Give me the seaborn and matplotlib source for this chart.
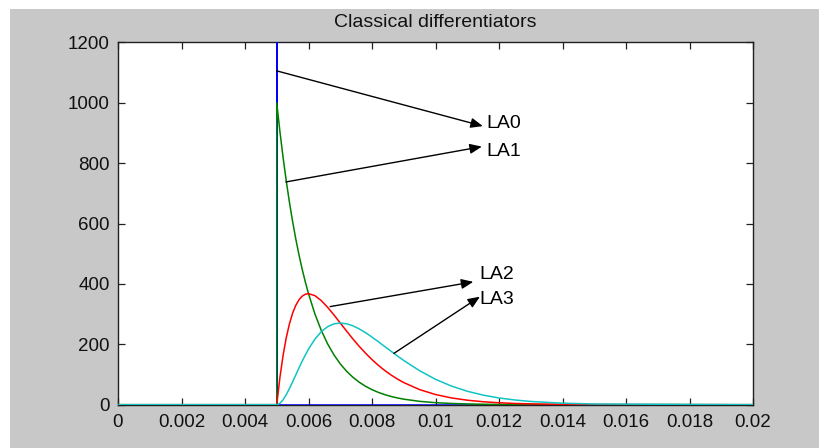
import matplotlib
matplotlib.use("Agg")
import matplotlib.pyplot as plt
import seaborn as sns
from matplotlib.patches import Rectangle

# Impulse response of the zero-order differentiator (off-scale spike at t = 5 ms)
t_la0 = [0.0, 0.005, 0.005, 0.005, 0.02]
la0 = [0.0, 0.0, 5000.0, 0.0, 0.0]

# Common time base for the higher-order responses (seconds)
t = [0.0, 0.005, 0.005, 0.0051, 0.0052, 0.0053, 0.0054, 0.0055, 0.0056, 0.0057,
     0.0058, 0.0059, 0.006, 0.0062, 0.0064, 0.0066, 0.0068, 0.007, 0.0072, 0.0074,
     0.0076, 0.0078, 0.008, 0.0082, 0.0084, 0.0086, 0.0088, 0.009, 0.0095, 0.01,
     0.0105, 0.011, 0.0115, 0.012, 0.0125, 0.013, 0.014, 0.015, 0.02]

la1 = [0.0, 0.0, 1000.0, 904.8, 818.7, 740.8, 670.3, 606.5, 548.8, 496.6,
       449.3, 406.6, 367.9, 301.2, 246.6, 201.9, 165.3, 135.3, 110.8, 90.7,
       74.3, 60.8, 49.8, 40.8, 33.4, 27.3, 22.4, 18.3, 11.1, 6.7,
       4.1, 2.5, 1.5, 0.9, 0.6, 0.3, 0.1, 0.05, 0.0]

la2 = [0.0, 0.0, 0.0, 90.5, 163.7, 222.2, 268.1, 303.3, 329.3, 347.6,
       359.5, 365.9, 367.9, 361.4, 345.2, 323.0, 297.5, 270.7, 243.8, 217.7,
       193.1, 170.3, 149.4, 130.4, 113.5, 98.4, 85.0, 73.3, 50.0, 33.7,
       22.5, 14.9, 9.8, 6.4, 4.1, 2.7, 1.1, 0.5, 0.0]

la3 = [0.0, 0.0, 0.0, 4.5, 16.4, 33.3, 53.6, 75.8, 98.8, 121.7,
       143.8, 164.7, 183.9, 216.9, 241.7, 258.4, 267.8, 270.7, 268.1, 261.3,
       251.0, 238.4, 224.0, 208.7, 192.9, 177.1, 161.5, 146.5, 112.5, 84.2,
       61.8, 44.6, 31.8, 22.3, 15.6, 10.7, 5.0, 2.3, 0.0]

# Axis ticks
x_ticks = [0, 0.002, 0.004, 0.006, 0.008, 0.01, 0.012, 0.014, 0.016, 0.018, 0.02]
x_tick_labels = ["0", "0.002", "0.004", "0.006", "0.008", "0.01", "0.012",
                 "0.014", "0.016", "0.018", "0.02"]
y_ticks = [0, 200, 400, 600, 800, 1000, 1200]

# Curve labels: (text, arrow tail, arrow head, text anchor)
labels = ["LA0", "LA1", "LA2", "LA3"]
arrow_tail = [(0.005, 1106), (0.00529, 738), (0.00668, 325), (0.00869, 170)]
arrow_head = [(0.01149, 923), (0.01146, 855), (0.01119, 407), (0.01140, 358)]
text_pos = [(0.01161, 931), (0.01159, 840), (0.01137, 430), (0.01137, 347)]

sns.set_style("ticks")
plt.rcParams["font.family"] = ["Liberation Sans", "DejaVu Sans"]

W, H = 819, 448
fig = plt.figure(figsize=(W / 100, H / 100), dpi=100, facecolor="white")
fig.patches.append(Rectangle((10 / W, 0), 1 - 10 / W, (H - 9) / H,
                             transform=fig.transFigure, facecolor="#c8c8c8",
                             edgecolor="none", zorder=-10))
ax = fig.add_axes([118 / W, (H - 404.7) / H, 635 / W, 362.2 / H])
ax.set_zorder(1)
ax.set_facecolor("white")

series = [(t_la0, la0, "#0000ff"), (t, la1, "#008000"),
          (t, la2, "#ff0000"), (t, la3, "#10c4c4")]
for tx, ty, col in series:
    sns.lineplot(x=tx, y=ty, color=col, sort=False, estimator=None,
                 linewidth=1.1, ax=ax, zorder=3)

for lab, tail, head, pos in zip(labels, arrow_tail, arrow_head, text_pos):
    ax.annotate("", xy=head, xytext=tail,
                arrowprops=dict(arrowstyle="-|>,head_length=0.6,head_width=0.25",
                                color="black", lw=1.0, mutation_scale=12,
                                shrinkA=0, shrinkB=0), zorder=4)
    ax.text(pos[0], pos[1], lab, ha="left", va="center", fontsize=14,
            color="black", zorder=5)

ax.set_xlim(0, 0.02)
ax.set_ylim(0, 1200)
ax.set_xticks(x_ticks)
ax.set_xticklabels(x_tick_labels)
ax.set_yticks(y_ticks)
ax.set_xlabel("")
ax.set_ylabel("")
ax.tick_params(axis="both", direction="in", top=True, right=True,
               length=5, width=0.9, color="#202020", labelsize=13.5,
               labelcolor="#111111")
ax.tick_params(axis="x", pad=7)
ax.tick_params(axis="y", pad=6)
for sp in ax.spines.values():
    sp.set_visible(True)
    sp.set_color("#202020")
    sp.set_linewidth(1.0)

ax.set_title("Classical differentiators", fontsize=14, pad=11, color="#111111")

fig.savefig("out.png", dpi=100, facecolor=fig.get_facecolor())
